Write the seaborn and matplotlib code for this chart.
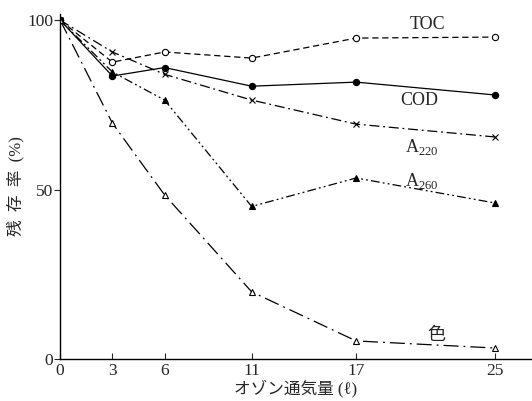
import matplotlib
matplotlib.use("Agg")
import matplotlib.pyplot as plt
import numpy as np
import pandas as pd
import seaborn as sns

# ozone volume (l)
ozone = [0, 3, 6, 11, 17, 25]

toc = [100, 87.6, 90.6, 88.8, 94.7, 95.0]
cod = [100, 83.5, 86.0, 80.5, 81.7, 77.9]
a220 = [100, 90.6, 84.0, 76.4, 69.3, 65.5]
a260 = [100, 84.7, 76.4, 45.0, 53.4, 46.0]
color = [100, 69.6, 48.4, 19.8, 5.3, 3.2]

series_names = ["TOC", "COD", "A220", "A260", "色"]

sns.set_style("ticks")
plt.rcParams['font.family'] = ['Liberation Serif', 'Noto Sans CJK JP']

df = pd.DataFrame({"x": ozone * 5,
                   "y": toc + cod + a220 + a260 + color,
                   "s": np.repeat(series_names, len(ozone))})

fig = plt.figure(figsize=(5.32, 4.01), dpi=100)
ax = fig.add_axes([0.113, 0.105, 0.887, 0.86])

styles = {
    "TOC": dict(marker="o", mfc="white", ls=(0, (5, 3))),
    "COD": dict(marker="o", mfc="black", ls="-"),
    "A220": dict(marker="x", mfc="black", ls=(0, (8, 3, 1.5, 3))),
    "A260": dict(marker="^", mfc="black", ls=(0, (7, 2.5, 1.5, 2.5, 1.5, 2.5))),
    "色": dict(marker="^", mfc="white", ls=(0, (12, 4, 1.5, 4))),
}

for name in series_names:
    st = styles[name]
    sub = df[df.s == name]
    sns.lineplot(data=sub, x="x", y="y", ax=ax, color="black", lw=0.9,
                 linestyle=st["ls"], marker=st["marker"], markersize=4.5,
                 markerfacecolor=st["mfc"], markeredgecolor="black",
                 markeredgewidth=0.8)

ax.set_xlim(0, 27.1)
ax.set_ylim(0, 101.8)
ax.set_xticks(ozone)
ax.set_yticks([0, 50, 100])
ax.tick_params(axis="x", direction="in", length=4, labelsize=12.5, pad=3)
ax.tick_params(axis="y", direction="out", length=4, labelsize=12.5, pad=1)
sns.despine(ax=ax)
for sp in ["left", "bottom"]:
    ax.spines[sp].set_linewidth(1.0)
    ax.spines[sp].set_color("black")

ax.set_xlabel("オゾン通気量 (ℓ)", fontsize=12, labelpad=0)
ax.set_ylabel("残  存  率  (%)", fontsize=12)
ax.yaxis.set_label_coords(-0.075, 0.5)

ax.text(21.1, 97.5, "TOC", fontsize=13, ha="center")
ax.text(20.6, 75.0, "COD", fontsize=13, ha="center")
ax.text(20.8, 61.0, "A$_{\\mathregular{220}}$", fontsize=13, ha="center")
ax.text(20.8, 51.0, "A$_{\\mathregular{260}}$", fontsize=13, ha="center")
ax.text(21.6, 5.5, "色", fontsize=13, ha="center")

fig.savefig("out.png", dpi=100)
